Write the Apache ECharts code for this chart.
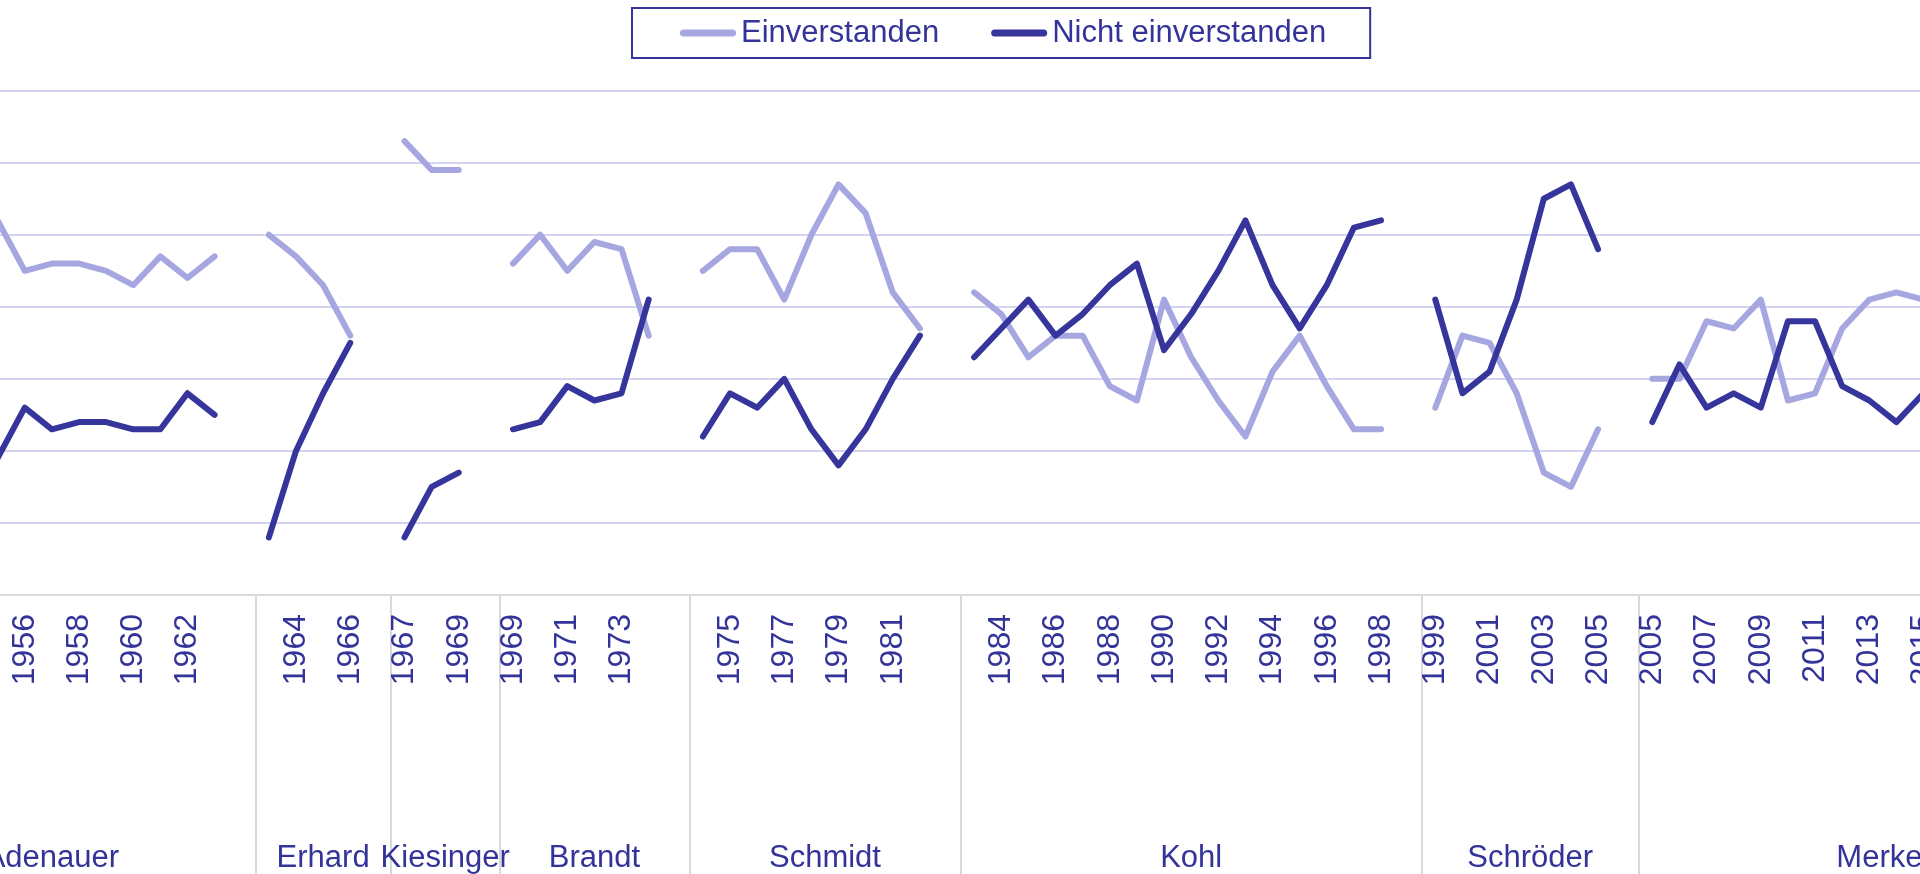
<!DOCTYPE html>
<html>
<head>
<meta charset="utf-8">
<script src="https://cdn.jsdelivr.net/npm/echarts@6/dist/echarts.min.js"></script>
<style>
html, body { margin: 0; padding: 0; background: #fff; overflow: hidden; }
body { width: 1920px; height: 874px; position: relative; }
/* Das Diagramm ist breiter als das Fenster: links und rechts abgeschnitten */
#chart { position: absolute; left: -154px; top: 0; width: 2281px; height: 874px; }
</style>
</head>
<body>
<div id="chart"></div>
<script>
// Kanzler und Jahre (je Gruppe eine leere Kategorie am Ende)
const chancellors = ['Adenauer', 'Erhard', 'Kiesinger', 'Brandt', 'Schmidt', 'Kohl', 'Schröder', 'Merkel']
const yearsAdenauer = [1950, 1951, 1952, 1953, 1954, 1955, 1956, 1957, 1958, 1959, 1960, 1961, 1962, 1963]
const yearsErhard = [1963, 1964, 1965, 1966]
const yearsKiesinger = [1967, 1968, 1969]
const yearsBrandt = [1969, 1970, 1971, 1972, 1973, 1974]
const yearsSchmidt = [1974, 1975, 1976, 1977, 1978, 1979, 1980, 1981, 1982]
const yearsKohl = [1983, 1984, 1985, 1986, 1987, 1988, 1989, 1990, 1991, 1992, 1993, 1994, 1995, 1996, 1997, 1998]
const yearsSchroeder = [1999, 2000, 2001, 2002, 2003, 2004, 2005]
const yearsMerkel = [2005, 2006, 2007, 2008, 2009, 2010, 2011, 2012, 2013, 2014, 2015, 2016, 2017, 2018, 2019, 2020, 2021]

// Einverstanden (%)
const agreeAdenauer = [null, null, null, null, null, 52, 45, 46, 46, 45, 43, 47, 44, 47]
const agreeErhard = [50, 47, 43, 36]
const agreeKiesinger = [63, 59, 59]
const agreeBrandt = [46, 50, 45, 49, 48, 36]
const agreeSchmidt = [45, 48, 48, 41, 50, 57, 53, 42, 37]
const agreeKohl = [42, 39, 33, 36, 36, 29, 27, 41, 33, 27, 22, 31, 36, 29, 23, 23]
const agreeSchroeder = [26, 36, 35, 28, 17, 15, 23]
const agreeMerkel = [30, 30, 38, 37, 41, 27, 28, 37, 41, 42, 41, null, null, null, null, null, null]

// Nicht einverstanden (%)
const disagreeAdenauer = [null, null, null, null, null, 19, 26, 23, 24, 24, 23, 23, 28, 25]
const disagreeErhard = [8, 20, 28, 35]
const disagreeKiesinger = [8, 15, 17]
const disagreeBrandt = [23, 24, 29, 27, 28, 41]
const disagreeSchmidt = [22, 28, 26, 30, 23, 18, 23, 30, 36]
const disagreeKohl = [33, 37, 41, 36, 39, 43, 46, 34, 39, 45, 52, 43, 37, 43, 51, 52]
const disagreeSchroeder = [41, 28, 31, 41, 55, 57, 48]
const disagreeMerkel = [24, 32, 26, 28, 26, 38, 38, 29, 27, 24, 28, null, null, null, null, null, null]

const groupYears = [yearsAdenauer, yearsErhard, yearsKiesinger, yearsBrandt, yearsSchmidt, yearsKohl, yearsSchroeder, yearsMerkel]
const groupAgree = [agreeAdenauer, agreeErhard, agreeKiesinger, agreeBrandt, agreeSchmidt, agreeKohl, agreeSchroeder, agreeMerkel]
const groupDisagree = [disagreeAdenauer, disagreeErhard, disagreeKiesinger, disagreeBrandt, disagreeSchmidt, disagreeKohl, disagreeSchroeder, disagreeMerkel]

const TEXT = '#333399'
const FONT = "'Liberation Sans', Arial, sans-serif"

var categories = []
var agree = []
var disagree = []
var bounds = [0]
var centers = []
groupYears.forEach(function (years, g) {
    var start = categories.length
    years.forEach(function (y, i) {
        categories.push(String(y))
        agree.push(groupAgree[g][i])
        disagree.push(groupDisagree[g][i])
    })
    // leere Kategorie als Lücke zwischen den Kanzlern
    categories.push('')
    agree.push(null)
    disagree.push(null)
    bounds.push(categories.length)
    centers.push((start + categories.length) / 2)
})
var total = categories.length

var chart = echarts.init(document.getElementById('chart'))
chart.setOption({
    animation: false,
    textStyle: { fontFamily: FONT },
    legend: {
        left: 786,
        top: 8,
        padding: [7, 44, 7, 48],
        borderColor: TEXT,
        borderWidth: 2,
        itemWidth: 56,
        itemHeight: 7,
        itemGap: 52,
        icon: 'path://M3.5,0 H52.5 A3.5,3.5 0 0 1 52.5,7 H3.5 A3.5,3.5 0 0 1 3.5,0 Z',
        textStyle: { color: TEXT, fontSize: 31, fontFamily: FONT, lineHeight: 36 },
        data: ['Einverstanden', 'Nicht einverstanden']
    },
    grid: {
        left: 0,
        right: 0,
        top: 90.7,
        bottom: 277.3
    },
    xAxis: [
        {
            type: 'category',
            data: categories,
            boundaryGap: true,
            axisLine: { lineStyle: { color: '#D9D9D9', width: 2 } },
            axisTick: { show: false },
            axisLabel: {
                interval: 1,
                rotate: 90,
                margin: 19,
                color: TEXT,
                fontSize: 32,
                fontFamily: FONT
            }
        },
        {
            type: 'value',
            min: 0,
            max: total,
            position: 'bottom',
            axisLine: { show: false },
            splitLine: { show: false },
            axisTick: {
                show: true,
                customValues: bounds,
                length: 290,
                lineStyle: { color: '#D9D9D9', width: 2 }
            },
            axisLabel: {
                customValues: centers,
                margin: 248,
                color: TEXT,
                fontSize: 31,
                fontFamily: FONT,
                formatter: function (v) {
                    var g = centers.indexOf(v)
                    return g >= 0 ? chancellors[g] : ''
                }
            }
        }
    ],
    yAxis: {
        type: 'value',
        min: 0,
        max: 70,
        interval: 10,
        axisLine: { show: false },
        axisTick: { show: false },
        axisLabel: { show: false },
        splitLine: { lineStyle: { color: '#D4D4F2', width: 2 } }
    },
    series: [
        {
            name: 'Einverstanden',
            type: 'line',
            data: agree,
            symbol: 'none',
            connectNulls: false,
            color: '#A6A6E0',
            lineStyle: { width: 6, cap: 'round', join: 'round' }
        },
        {
            name: 'Nicht einverstanden',
            type: 'line',
            data: disagree,
            symbol: 'none',
            connectNulls: false,
            color: '#35359B',
            lineStyle: { width: 6, cap: 'round', join: 'round' }
        }
    ]
})
</script>
</body>
</html>
